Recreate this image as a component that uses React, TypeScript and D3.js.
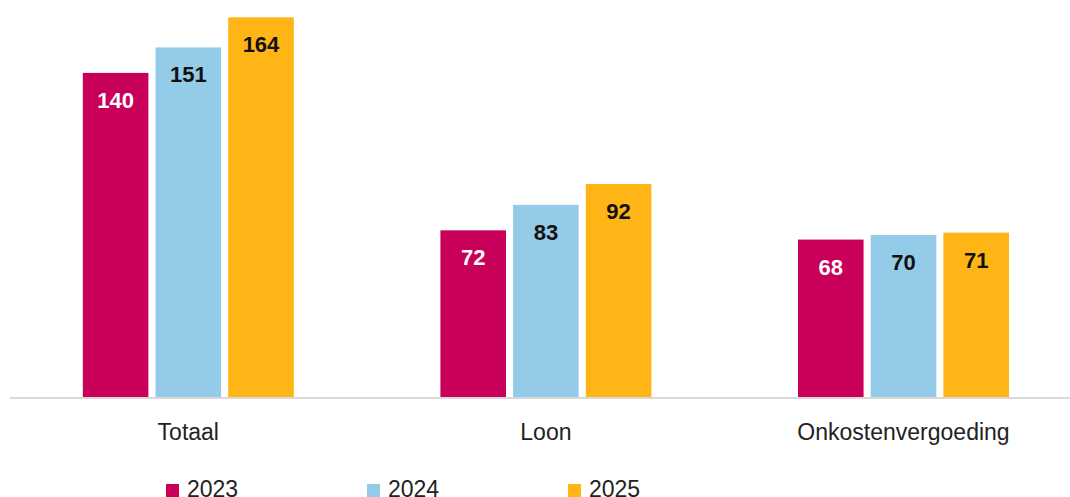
import React from "react";
import * as d3 from "d3";

const categories = ["Totaal", "Loon", "Onkostenvergoeding"];
const years = ["2023", "2024", "2025"];
const values2023 = [140, 72, 68];
const values2024 = [151, 83, 70];
const values2025 = [164, 92, 71];
const colors = ["#C8005A", "#93CBE8", "#FFB515"];
const labelColors = ["#FFFFFF", "#111111", "#111111"];

const W = 1070;
const H = 497;
const FONT = "'Liberation Sans', Arial, sans-serif";

export default function App() {
  const series = [values2023, values2024, values2025];
  const x0 = d3
    .scaleBand<string>()
    .domain(categories)
    .range([9.5, 9.5 + 3 * 357.6])
    .paddingInner(0.41)
    .paddingOuter(0.205);
  const x1 = d3
    .scaleBand<string>()
    .domain(years)
    .range([0, x0.bandwidth()])
    .paddingInner(0.098);
  const y = d3.scaleLinear().domain([0, 170]).range([397, 397 - 170 * 2.315]);

  const legendX = d3.scaleLinear().domain([0, 2]).range([166, 568]);

  return (
    <svg
      width={W}
      height={H}
      style={{ position: "absolute", left: 0, top: 0, background: "#fff" }}
      fontFamily={FONT}
    >
      <rect width={W} height={H} fill="#fff" />
      <line x1={10} x2={1070} y1={398} y2={398} stroke="#D9D9D9" strokeWidth={2} />
      {categories.map((c, ci) => (
        <g key={c} transform={`translate(${x0(c)},0)`}>
          {years.map((yr, si) => {
            const v = series[si][ci];
            const bx = x1(yr)!;
            const top = y(v);
            return (
              <g key={yr}>
                <rect x={bx} y={top} width={x1.bandwidth()} height={y(0) - top} fill={colors[si]} />
                <text
                  x={bx + x1.bandwidth() / 2}
                  y={top + 35}
                  textAnchor="middle"
                  fontWeight="bold"
                  fontSize={22}
                  fill={labelColors[si]}
                >
                  {v}
                </text>
              </g>
            );
          })}
          <text
            x={x0.bandwidth() / 2}
            y={440}
            textAnchor="middle"
            fontSize={23}
            fill="#222"
          >
            {c}
          </text>
        </g>
      ))}
      {years.map((yr, i) => (
        <g key={yr} transform={`translate(${legendX(i)},0)`}>
          <rect x={0} y={484} width={13} height={13} fill={colors[i]} />
          <text x={21} y={497} fontSize={23} fill="#222">
            {yr}
          </text>
        </g>
      ))}
    </svg>
  );
}
